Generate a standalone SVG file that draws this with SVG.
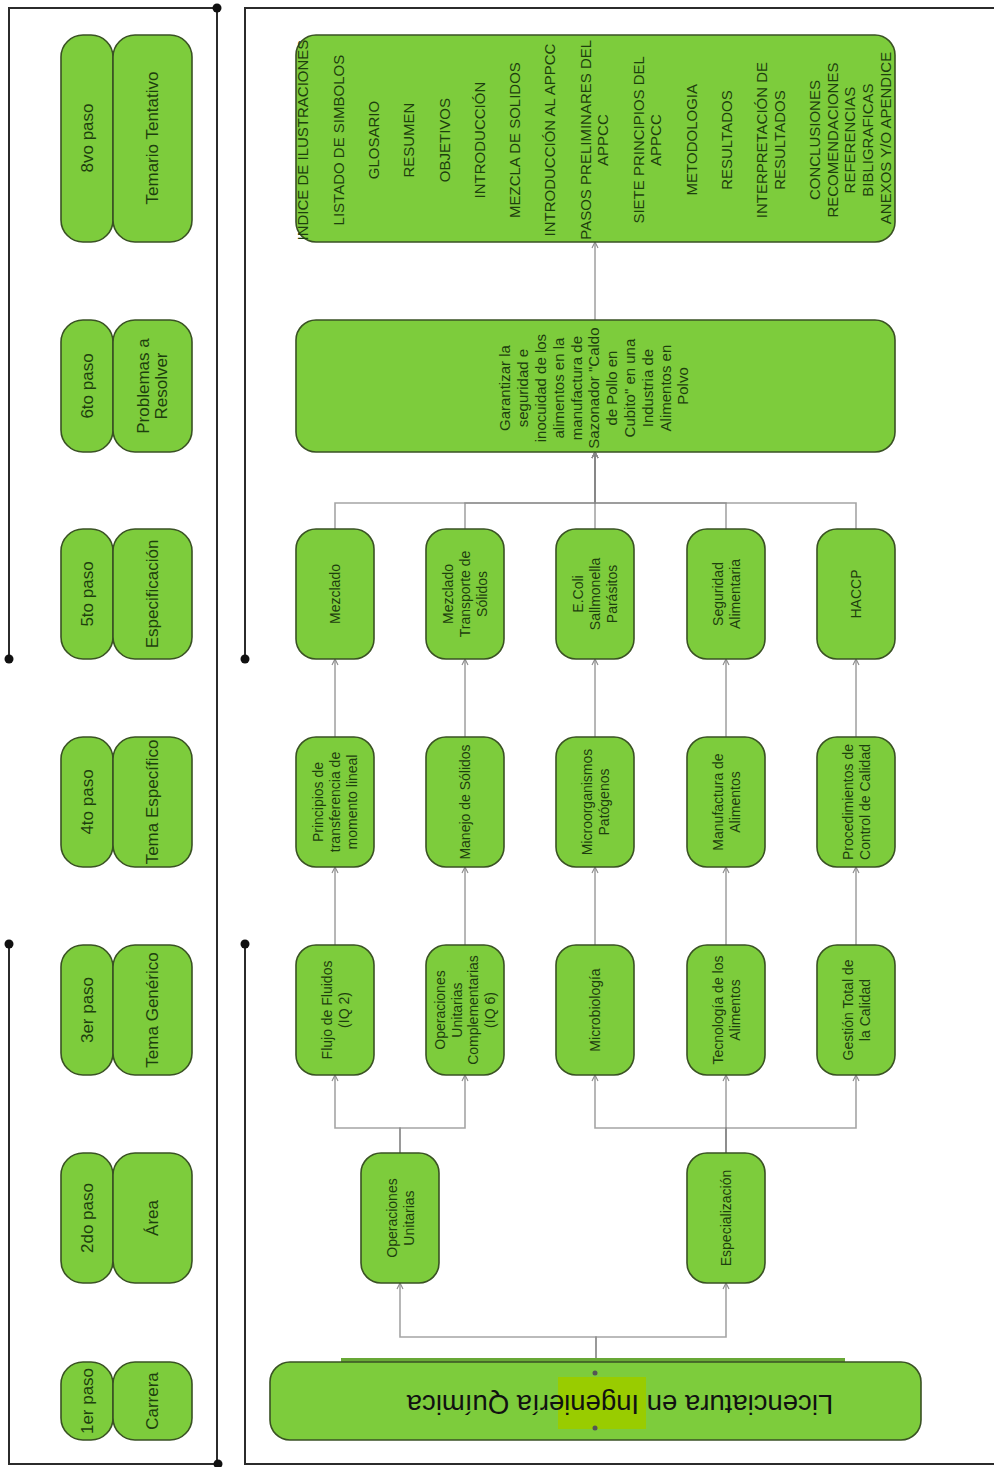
<svg xmlns="http://www.w3.org/2000/svg" width="994" height="1467" viewBox="0 0 994 1467">
<style>
.bx{fill:#7dcc3c;stroke:#3a5224;stroke-width:1.6}
.t{font-family:"Liberation Sans",Arial,sans-serif;fill:#1d3f0e;text-anchor:middle}
.f14{font-size:14px}
.f15{font-size:15px}
.f17{font-size:17px}
.fr{fill:none;stroke:#2b2b2b;stroke-width:2}
.dot{fill:#111}
.cn{fill:none;stroke:#858585;stroke-width:1.6;stroke-opacity:0.75;marker-end:url(#ah)}
.cn0{fill:none;stroke:#858585;stroke-width:1.6;stroke-opacity:0.75}
</style>
<defs>
<marker id="ah" markerWidth="9" markerHeight="9" refX="7" refY="4" orient="auto" markerUnits="userSpaceOnUse">
<path d="M1,1 L7,4 L1,7" fill="none" stroke="#8a8a8a" stroke-width="1.1"/>
</marker>
</defs>
<rect width="994" height="1467" fill="#ffffff"/>

<g id="frame">
<path class="fr" d="M217,8 H9 V659"/>
<path class="fr" d="M9,944 V1464 H218"/>
<path class="fr" d="M217,8 V1464"/>
<circle class="dot" cx="217" cy="8" r="4.5"/>
<circle class="dot" cx="9" cy="659" r="4.5"/>
<circle class="dot" cx="9" cy="944" r="4.5"/>
<circle class="dot" cx="218" cy="1464" r="4.5"/>
<path class="fr" d="M994,8 H245 V659"/>
<path class="fr" d="M245,944 V1464 H994"/>
<circle class="dot" cx="245" cy="659" r="4.5"/>
<circle class="dot" cx="245" cy="944" r="4.5"/>
</g>

<g id="steps">
<g id="paso8"><rect class="bx" x="61" y="35" width="52" height="207" rx="22"/><rect class="bx" x="113" y="35" width="79" height="207" rx="22"/>
<text class="t f17" transform="translate(87,138) rotate(-90)" y="6">8vo paso</text>
<text class="t f17" transform="translate(152,138) rotate(-90)" y="6">Temario Tentativo</text></g>
<g id="paso6"><rect class="bx" x="61" y="320" width="52" height="132" rx="22"/><rect class="bx" x="113" y="320" width="79" height="132" rx="22"/>
<text class="t f17" transform="translate(87,386) rotate(-90)" y="6">6to paso</text>
<text class="t f17" transform="translate(152,386) rotate(-90)"><tspan x="0" y="-3">Problemas a</tspan><tspan x="0" y="15">Resolver</tspan></text></g>
<g id="paso5"><rect class="bx" x="61" y="529" width="52" height="130" rx="22"/><rect class="bx" x="113" y="529" width="79" height="130" rx="22"/>
<text class="t f17" transform="translate(87,594) rotate(-90)" y="6">5to paso</text>
<text class="t f17" transform="translate(152,594) rotate(-90)" y="6">Especificación</text></g>
<g id="paso4"><rect class="bx" x="61" y="737" width="52" height="130" rx="22"/><rect class="bx" x="113" y="737" width="79" height="130" rx="22"/>
<text class="t f17" transform="translate(87,802) rotate(-90)" y="6">4to paso</text>
<text class="t f17" transform="translate(152,802) rotate(-90)" y="6">Tema Específico</text></g>
<g id="paso3"><rect class="bx" x="61" y="945" width="52" height="130" rx="22"/><rect class="bx" x="113" y="945" width="79" height="130" rx="22"/>
<text class="t f17" transform="translate(87,1010) rotate(-90)" y="6">3er paso</text>
<text class="t f17" transform="translate(152,1010) rotate(-90)" y="6">Tema Genérico</text></g>
<g id="paso2"><rect class="bx" x="61" y="1153" width="52" height="130" rx="22"/><rect class="bx" x="113" y="1153" width="79" height="130" rx="22"/>
<text class="t f17" transform="translate(87,1218) rotate(-90)" y="6">2do paso</text>
<text class="t f17" transform="translate(152,1218) rotate(-90)" y="6">Área</text></g>
<g id="paso1"><rect class="bx" x="61" y="1362" width="52" height="78" rx="22"/><rect class="bx" x="113" y="1362" width="79" height="78" rx="22"/>
<text class="t f17" transform="translate(87,1401) rotate(-90)" y="6">1er paso</text>
<text class="t f17" transform="translate(152,1401) rotate(-90)" y="6">Carrera</text></g>
</g>

<g id="connectors">
<path class="cn" d="M596,1358 V1337 H400 V1283"/>
<path class="cn" d="M596,1358 V1337 H726 V1283"/>
<path class="cn" d="M400,1153 V1128 H335 V1075"/>
<path class="cn" d="M400,1153 V1128 H465 V1075"/>
<path class="cn" d="M726,1153 V1128 H595 V1075"/>
<path class="cn" d="M726,1153 V1075"/>
<path class="cn" d="M726,1153 V1128 H856 V1075"/>
<path class="cn" d="M335,945 V867"/>
<path class="cn" d="M465,945 V867"/>
<path class="cn" d="M595,945 V867"/>
<path class="cn" d="M726,945 V867"/>
<path class="cn" d="M856,945 V867"/>
<path class="cn" d="M335,737 V659"/>
<path class="cn" d="M465,737 V659"/>
<path class="cn" d="M595,737 V659"/>
<path class="cn" d="M726,737 V659"/>
<path class="cn" d="M856,737 V659"/>
<path class="cn" d="M335,529 V503 H595 V452"/>
<path class="cn" d="M465,529 V503 H595 V452"/>
<path class="cn" d="M595,529 V452"/>
<path class="cn" d="M726,529 V503 H595 V452"/>
<path class="cn" d="M856,529 V503 H595 V452"/>
<path class="cn" d="M595,320 V242"/>
</g>

<g id="temario">
<rect class="bx" x="296" y="35" width="599" height="207" rx="20"/>
<text class="t f15" transform="translate(303,138) rotate(-90)">
<tspan x="0" y="5.3">INDICE DE ILUSTRACIONES</tspan>
<tspan x="0" y="40.6">LISTADO DE SIMBOLOS</tspan>
<tspan x="0" y="75.9">GLOSARIO</tspan>
<tspan x="0" y="111.2">RESUMEN</tspan>
<tspan x="0" y="146.5">OBJETIVOS</tspan>
<tspan x="0" y="181.8">INTRODUCCIÓN</tspan>
<tspan x="0" y="217.1">MEZCLA DE SOLIDOS</tspan>
<tspan x="0" y="252.4">INTRODUCCIÓN AL APPCC</tspan>
<tspan x="0" y="287.7">PASOS PRELIMINARES DEL</tspan>
<tspan x="0" y="305.35">APPCC</tspan>
<tspan x="0" y="340.65">SIETE PRINCIPIOS DEL</tspan>
<tspan x="0" y="358.3">APPCC</tspan>
<tspan x="0" y="393.6">METODOLOGIA</tspan>
<tspan x="0" y="428.9">RESULTADOS</tspan>
<tspan x="0" y="464.2">INTERPRETACIÓN DE</tspan>
<tspan x="0" y="481.85">RESULTADOS</tspan>
<tspan x="0" y="517.15">CONCLUSIONES</tspan>
<tspan x="0" y="534.8">RECOMENDACIONES</tspan>
<tspan x="0" y="552.45">REFERENCIAS</tspan>
<tspan x="0" y="570.1">BIBLIGRAFICAS</tspan>
<tspan x="0" y="587.75">ANEXOS Y/O APENDICE</tspan>
</text>
</g>

<g id="problema">
<rect class="bx" x="296" y="320" width="599" height="132" rx="20"/>
<text class="t f15" transform="translate(595,386) rotate(-90)">
<tspan x="0" y="-84.7">Garantizar la</tspan>
<tspan x="0" y="-66.9">seguridad e</tspan>
<tspan x="0" y="-49.1">inocuidad de los</tspan>
<tspan x="0" y="-31.3">alimentos en la</tspan>
<tspan x="0" y="-13.5">manufactura de</tspan>
<tspan x="0" y="4.3">Sazonador "Caldo</tspan>
<tspan x="0" y="22.1">de Pollo en</tspan>
<tspan x="0" y="39.9">Cubito" en una</tspan>
<tspan x="0" y="57.7">Industria de</tspan>
<tspan x="0" y="75.5">Alimentos en</tspan>
<tspan x="0" y="93.3">Polvo</tspan>
</text>
</g>

<g id="mezclado"><rect class="bx" x="296" y="529" width="78" height="130" rx="20"/>
<text class="t f14" transform="translate(335,594) rotate(-90)" y="5">Mezclado</text></g>
<g id="mezclado-transporte"><rect class="bx" x="426" y="529" width="78" height="130" rx="20"/>
<text class="t f14" transform="translate(465,594) rotate(-90)"><tspan x="0" y="-12">Mezclado</tspan><tspan x="0" y="5">Transporte de</tspan><tspan x="0" y="22">Sólidos</tspan></text></g>
<g id="ecoli"><rect class="bx" x="556" y="529" width="78" height="130" rx="20"/>
<text class="t f14" transform="translate(595,594) rotate(-90)"><tspan x="0" y="-12">E.Coli</tspan><tspan x="0" y="5">Sallmonella</tspan><tspan x="0" y="22">Parásitos</tspan></text></g>
<g id="seguridad"><rect class="bx" x="687" y="529" width="78" height="130" rx="20"/>
<text class="t f14" transform="translate(726,594) rotate(-90)"><tspan x="0" y="-3.5">Seguridad</tspan><tspan x="0" y="13.5">Alimentaria</tspan></text></g>
<g id="haccp"><rect class="bx" x="817" y="529" width="78" height="130" rx="20"/>
<text class="t f14" transform="translate(856,594) rotate(-90)" y="5">HACCP</text></g>

<g id="principios"><rect class="bx" x="296" y="737" width="78" height="130" rx="20"/>
<text class="t f14" transform="translate(335,802) rotate(-90)"><tspan x="0" y="-12">Principios de</tspan><tspan x="0" y="5">transferencia de</tspan><tspan x="0" y="22">momento lineal</tspan></text></g>
<g id="manejo"><rect class="bx" x="426" y="737" width="78" height="130" rx="20"/>
<text class="t f14" transform="translate(465,802) rotate(-90)" y="5">Manejo de Sólidos</text></g>
<g id="microorganismos"><rect class="bx" x="556" y="737" width="78" height="130" rx="20"/>
<text class="t f14" transform="translate(595,802) rotate(-90)"><tspan x="0" y="-3.5">Microorganismos</tspan><tspan x="0" y="13.5">Patógenos</tspan></text></g>
<g id="manufactura"><rect class="bx" x="687" y="737" width="78" height="130" rx="20"/>
<text class="t f14" transform="translate(726,802) rotate(-90)"><tspan x="0" y="-3.5">Manufactura de</tspan><tspan x="0" y="13.5">Alimentos</tspan></text></g>
<g id="procedimientos"><rect class="bx" x="817" y="737" width="78" height="130" rx="20"/>
<text class="t f14" transform="translate(856,802) rotate(-90)"><tspan x="0" y="-3.5">Procedimientos de</tspan><tspan x="0" y="13.5">Control de Calidad</tspan></text></g>

<g id="flujo"><rect class="bx" x="296" y="945" width="78" height="130" rx="20"/>
<text class="t f14" transform="translate(335,1010) rotate(-90)"><tspan x="0" y="-3.5">Flujo de Fluidos</tspan><tspan x="0" y="13.5">(IQ 2)</tspan></text></g>
<g id="opcomp"><rect class="bx" x="426" y="945" width="78" height="130" rx="20"/>
<text class="t f14" transform="translate(465,1010) rotate(-90)"><tspan x="0" y="-19.75">Operaciones</tspan><tspan x="0" y="-3.25">Unitarias</tspan><tspan x="0" y="13.25">Complementarias</tspan><tspan x="0" y="29.75">(IQ 6)</tspan></text></g>
<g id="microbiologia"><rect class="bx" x="556" y="945" width="78" height="130" rx="20"/>
<text class="t f14" transform="translate(595,1010) rotate(-90)" y="5">Microbiología</text></g>
<g id="tecnologia"><rect class="bx" x="687" y="945" width="78" height="130" rx="20"/>
<text class="t f14" transform="translate(726,1010) rotate(-90)"><tspan x="0" y="-3.5">Tecnología de los</tspan><tspan x="0" y="13.5">Alimentos</tspan></text></g>
<g id="gestion"><rect class="bx" x="817" y="945" width="78" height="130" rx="20"/>
<text class="t f14" transform="translate(856,1010) rotate(-90)"><tspan x="0" y="-3.5">Gestión Total de</tspan><tspan x="0" y="13.5">la Calidad</tspan></text></g>

<g id="opunit"><rect class="bx" x="361" y="1153" width="78" height="130" rx="20"/>
<text class="t f14" transform="translate(400,1218) rotate(-90)"><tspan x="0" y="-3.5">Operaciones</tspan><tspan x="0" y="13.5">Unitarias</tspan></text></g>
<g id="especializacion"><rect class="bx" x="687" y="1153" width="78" height="130" rx="20"/>
<text class="t f14" transform="translate(726,1218) rotate(-90)" y="5">Especialización</text></g>

<g id="licenciatura">
<rect x="341" y="1358" width="504" height="5" fill="#68a836"/>
<rect class="bx" x="270" y="1362" width="651" height="78" rx="20"/>
<rect x="558" y="1377" width="88" height="52" fill="#99cc00"/>
<circle cx="595" cy="1373" r="2.5" fill="#555"/>
<circle cx="595" cy="1428" r="2.5" fill="#555"/>
<text class="t" style="font-size:27.5px;fill:#111" x="620" y="1414.6" transform="rotate(180 620 1405)">Licenciatura en Ingeniería Química</text>
</g>
</svg>
